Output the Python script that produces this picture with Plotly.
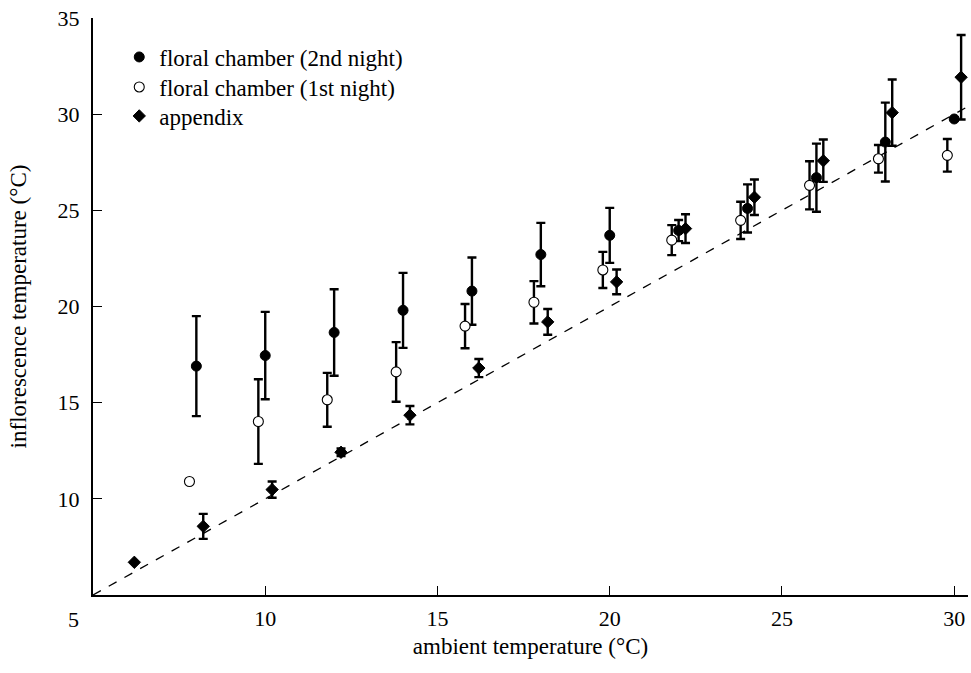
import plotly.graph_objects as go

# floral chamber (2nd night)
night2_x = [8.0, 10.0, 12.0, 14.0, 16.0, 18.0, 20.0, 22.0, 24.0, 26.0, 28.0, 30.0]
night2_y = [16.9, 17.45, 18.65, 19.8, 20.8, 22.7, 23.7, 23.95, 25.1, 26.7, 28.55, 29.75]
night2_err = [2.6, 2.27, 2.25, 1.95, 1.75, 1.65, 1.43, 0.55, 1.25, 1.77, 2.05, 0.0]

# floral chamber (1st night)
night1_x = [7.8, 9.8, 11.8, 13.8, 15.8, 17.8, 19.8, 21.8, 23.8, 25.8, 27.8, 29.8]
night1_y = [10.9, 14.02, 15.15, 16.6, 18.98, 20.22, 21.9, 23.45, 24.48, 26.3, 27.68, 27.86]
night1_err = [0.0, 2.2, 1.4, 1.55, 1.15, 1.1, 0.94, 0.78, 0.97, 1.25, 0.72, 0.85]

# appendix
app_x = [6.2, 8.2, 10.2, 12.2, 14.2, 16.2, 18.2, 20.2, 22.2, 24.2, 26.2, 28.2, 30.2]
app_y = [6.7, 8.57, 10.48, 12.42, 14.35, 16.8, 19.2, 21.28, 24.05, 25.68, 27.58, 30.08, 31.92]
app_err = [0.0, 0.65, 0.42, 0.2, 0.48, 0.47, 0.67, 0.64, 0.75, 0.92, 1.1, 1.72, 2.2]

# reference line (ambient = inflorescence)
line_x = [5, 30.4]
line_y = [5, 30.4]

x_ticks = [10, 15, 20, 25, 30]
y_ticks = [10, 15, 20, 25, 30, 35]

FONT = "Liberation Serif"
TICK_SIZE = 22
TITLE_SIZE = 23

fig = go.Figure()

fig.add_trace(go.Scatter(
    x=line_x, y=line_y, mode="lines",
    line=dict(color="black", width=1.3, dash="dash"),
    showlegend=False, hoverinfo="skip", cliponaxis=False))

err_style = dict(type="data", thickness=2.4, width=4.5, color="black")

fig.add_trace(go.Scatter(
    x=night2_x, y=night2_y, mode="markers", name="floral chamber (2nd night)",
    marker=dict(symbol="circle", size=10, color="black", line=dict(color="black", width=1)),
    error_y=dict(array=night2_err, **err_style), cliponaxis=False, legend="legend"))

fig.add_trace(go.Scatter(
    x=night1_x, y=night1_y, mode="markers", name="floral chamber (1st night)",
    marker=dict(symbol="circle", size=10, color="white", line=dict(color="black", width=1.1)),
    error_y=dict(array=night1_err, **err_style), cliponaxis=False, legend="legend2"))

fig.add_trace(go.Scatter(
    x=app_x, y=app_y, mode="markers", name="appendix",
    marker=dict(symbol="diamond", size=9.5, color="black", line=dict(color="black", width=1)),
    error_y=dict(array=app_err, **err_style), cliponaxis=False, legend="legend3"))

fig.add_annotation(x=5, y=0, xref="x", yref="paper", text="5", showarrow=False,
                   xshift=-20, yshift=-24, yanchor="middle",
                   font=dict(family=FONT, size=TICK_SIZE, color="black"))

leg_common = dict(x=0.03, xanchor="left", yanchor="middle", bgcolor="rgba(0,0,0,0)",
                  font=dict(family=FONT, size=TITLE_SIZE), itemwidth=30)

fig.update_layout(
    width=971, height=673,
    margin=dict(l=93, r=3, t=18, b=78),
    paper_bgcolor="white", plot_bgcolor="white",
    font=dict(family=FONT, size=TICK_SIZE, color="black"),
    showlegend=True,
    legend=dict(y=0.9324, **leg_common),
    legend2=dict(y=0.8804, **leg_common),
    legend3=dict(y=0.8302, **leg_common),
    xaxis=dict(range=[5, 30.4], tickvals=x_ticks, ticks="inside", ticklen=9,
               tickwidth=1.3, tickcolor="black", showline=True, linecolor="black",
               linewidth=2.2, showgrid=False, zeroline=False, automargin=False,
               ticklabelstandoff=2,
               title=dict(text="ambient temperature (°C)", font=dict(family=FONT, size=TITLE_SIZE), standoff=8),
               tickfont=dict(family=FONT, size=TICK_SIZE)),
    yaxis=dict(range=[5, 35], tickvals=y_ticks, ticks="inside", ticklen=9,
               tickwidth=1.3, tickcolor="black", showline=True, linecolor="black",
               linewidth=2.2, showgrid=False, zeroline=False, automargin=False,
               ticklabelstandoff=7,
               title=dict(text="inflorescence temperature (°C)", font=dict(family=FONT, size=TITLE_SIZE), standoff=24),
               tickfont=dict(family=FONT, size=TICK_SIZE)),
)

fig.write_html("out.html", config={"displayModeBar": False},
               post_script="document.body.style.margin='0';document.body.style.overflow='hidden';")
